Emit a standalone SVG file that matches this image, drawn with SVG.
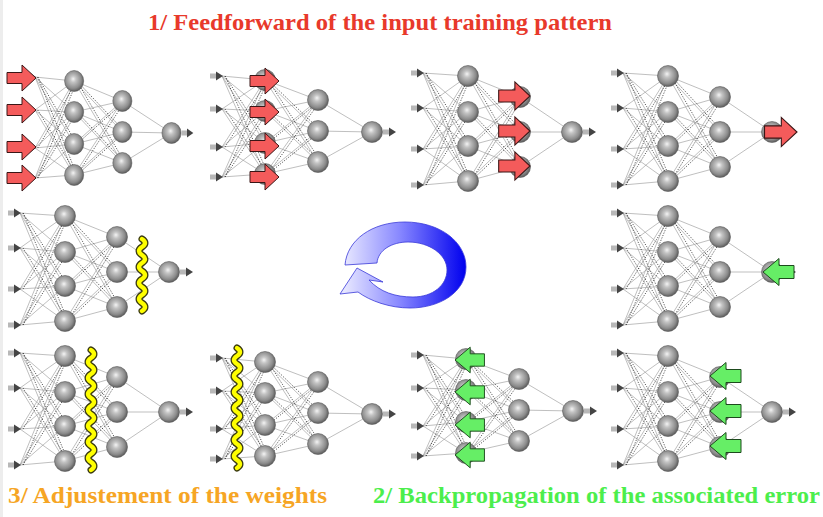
<svg xmlns="http://www.w3.org/2000/svg" xmlns:xlink="http://www.w3.org/1999/xlink" width="823" height="517" viewBox="0 0 823 517">
<style>
.ln{fill:none;stroke:#a4a4a4;stroke-width:0.7;vector-effect:non-scaling-stroke}
.dl{fill:none;stroke:#333;stroke-width:0.8;stroke-dasharray:1.2 1.4;vector-effect:non-scaling-stroke}
.nr{fill:url(#sph);stroke:#5a5a5a;stroke-width:0.6}
.red{fill:#f45b5b;stroke:#3a1616;stroke-width:1;stroke-linejoin:miter}
.grn{fill:#66ee66;stroke:#1d4a1d;stroke-width:1;stroke-linejoin:miter}
.wo{fill:none;stroke:#3a3a10;stroke-width:7;stroke-linecap:round;stroke-linejoin:round}
.wi{fill:none;stroke:#ffff00;stroke-width:4.4;stroke-linecap:round;stroke-linejoin:round}
.t{font-family:"Liberation Serif","DejaVu Serif",serif;font-weight:bold;font-size:23px}
</style>
<defs>
<radialGradient id="sph" cx="0.45" cy="0.45" r="0.6" fx="0.45" fy="0.4">
<stop offset="0" stop-color="#f4f4f4"/>
<stop offset="0.25" stop-color="#c4c4c4"/>
<stop offset="0.7" stop-color="#8c8c8c"/>
<stop offset="1" stop-color="#4e4e4e"/>
</radialGradient>
<linearGradient id="blu" x1="345" y1="0" x2="466" y2="0" gradientUnits="userSpaceOnUse">
<stop offset="0" stop-color="#e6e6ff"/>
<stop offset="0.45" stop-color="#8888ff"/>
<stop offset="1" stop-color="#0000ee"/>
</linearGradient>
<g id="sa"><rect x="-12" y="-2.5" width="7" height="5" fill="#b8b8b8"/><path d="M-6,-4.5 L1,0 L-6,4.5 Z" fill="#444"/></g>
<path id="ra" d="M-29,-5.5 H-14 V-13 L0,0 L-14,13 V5.5 H-29 Z"/>
<path id="ga" d="M0,0 L16,-13.5 V-6.5 H31 V6.5 H16 V13.5 Z"/>
<g id="linksA">
<path class="ln" d="M0,0L45,3M0,0L45,39M0,0L45,73M0,0L45,108M0,35L45,3M0,35L45,39M0,35L45,73M0,35L45,108M0,76L45,3M0,76L45,39M0,76L45,73M0,76L45,108M0,112L45,3M0,112L45,39M0,112L45,73M0,112L45,108M45,3L97,24M45,3L97,59M45,3L97,94M45,39L97,24M45,39L97,59M45,39L97,94M45,73L97,24M45,73L97,59M45,73L97,94M45,108L97,24M45,108L97,59M45,108L97,94M97,24L149,59M97,59L149,59M97,94L149,59"/>
<path class="dl" d="M3,0L48,73M3,0L48,108M3,35L48,108M3,76L48,3M3,112L48,3M3,112L48,39M48,3L100,59M48,3L100,94M48,39L100,94M48,73L100,24M48,108L100,24M48,108L100,59"/>
</g>
<g id="linksB">
<path class="ln" d="M0,0L43,4M0,0L43,35M0,0L43,67M0,0L43,98M0,33L43,4M0,33L43,35M0,33L43,67M0,33L43,98M0,71L43,4M0,71L43,35M0,71L43,67M0,71L43,98M0,101L43,4M0,101L43,35M0,101L43,67M0,101L43,98M43,4L96,24M43,4L96,55M43,4L96,86M43,35L96,24M43,35L96,55M43,35L96,86M43,67L96,24M43,67L96,55M43,67L96,86M43,98L96,24M43,98L96,55M43,98L96,86M96,24L150,56M96,55L150,56M96,86L150,56"/>
<path class="dl" d="M3,0L46,67M3,0L46,98M3,33L46,98M3,71L46,4M3,101L46,4M3,101L46,35M46,4L99,55M46,4L99,86M46,35L99,86M46,67L99,24M46,98L99,24M46,98L99,55"/>
</g>
<g id="nodesA">
<use href="#sa" x="0" y="0"/><use href="#sa" x="0" y="35"/><use href="#sa" x="0" y="76"/><use href="#sa" x="0" y="112"/>
<circle class="nr" cx="45" cy="3" r="10.5"/><circle class="nr" cx="45" cy="39" r="10.5"/><circle class="nr" cx="45" cy="73" r="10.5"/><circle class="nr" cx="45" cy="108" r="10.5"/>
<circle class="nr" cx="97" cy="24" r="10.5"/><circle class="nr" cx="97" cy="59" r="10.5"/><circle class="nr" cx="97" cy="94" r="10.5"/>
<circle class="nr" cx="149" cy="59" r="10.5"/>
<use href="#sa" x="172" y="59"/>
</g>
<g id="nodesB">
<use href="#sa" x="0" y="0"/><use href="#sa" x="0" y="33"/><use href="#sa" x="0" y="71"/><use href="#sa" x="0" y="101"/>
<circle class="nr" cx="43" cy="4" r="10.5"/><circle class="nr" cx="43" cy="35" r="10.5"/><circle class="nr" cx="43" cy="67" r="10.5"/><circle class="nr" cx="43" cy="98" r="10.5"/>
<circle class="nr" cx="96" cy="24" r="10.5"/><circle class="nr" cx="96" cy="55" r="10.5"/><circle class="nr" cx="96" cy="86" r="10.5"/>
<circle class="nr" cx="150" cy="56" r="10.5"/>
<use href="#sa" x="173" y="56"/>
</g>
</defs>
<rect x="0" y="0" width="823" height="517" fill="#ffffff"/>
<rect x="0" y="0" width="3" height="517" fill="#ededed"/>

<text class="t" x="148" y="30" fill="#e8392b" textLength="464" lengthAdjust="spacingAndGlyphs">1/ Feedforward of the input training pattern</text>

<g id="connectors">
<use href="#linksB" transform="translate(35,77) scale(0.91,1)"/>
<use href="#linksB" transform="translate(222,76)"/>
<use href="#linksA" transform="translate(423,73)"/>
<use href="#linksA" transform="translate(623,73)"/>
<use href="#linksA" transform="translate(20,213)"/>
<use href="#linksA" transform="translate(623,213)"/>
<use href="#linksA" transform="translate(20,353)"/>
<use href="#linksB" transform="translate(222,358)"/>
<use href="#linksB" transform="translate(423,355)"/>
<use href="#linksA" transform="translate(623,353)"/>
</g>

<g id="net1"><use href="#nodesB" transform="translate(35,77) scale(0.91,1)"/>
<use href="#ra" class="red" x="36" y="78"/><use href="#ra" class="red" x="36" y="110"/><use href="#ra" class="red" x="36" y="147"/><use href="#ra" class="red" x="36" y="178"/></g>
<g id="net2"><use href="#nodesB" transform="translate(222,76)"/>
<use href="#ra" class="red" x="279" y="81"/><use href="#ra" class="red" x="279" y="112"/><use href="#ra" class="red" x="279" y="146"/><use href="#ra" class="red" x="279" y="177"/></g>
<g id="net3"><use href="#nodesA" transform="translate(423,73)"/>
<use href="#ra" class="red" transform="translate(530,96) scale(1.08)"/><use href="#ra" class="red" transform="translate(530,131) scale(1.08)"/><use href="#ra" class="red" transform="translate(530,166) scale(1.08)"/></g>
<g id="net4"><use href="#nodesA" transform="translate(623,73)"/>
<use href="#ra" class="red" transform="translate(797,132) scale(1.12)"/></g>

<g id="net5"><use href="#nodesA" transform="translate(20,213)"/>
<path class="wo" d="M142,239q6,4 0,8t0,8t0,8t0,8t0,8t0,8t0,8t0,8t0,8"/>
<path class="wi" d="M142,239q6,4 0,8t0,8t0,8t0,8t0,8t0,8t0,8t0,8t0,8"/></g>
<g id="net6"><use href="#nodesA" transform="translate(623,213)"/>
<use href="#ga" class="grn" transform="translate(763,272)"/></g>

<g id="cycle"><path d="M345,265 C347,240 372,222 405,222 C440,222 466,242 466,267 C466,292 440,308 410,308 C390,308 370,301 358,292 L340,294 L357,268 L383,282 L369,280 C380,292 395,297 413,297 C433,297 447,285 447,270 C447,255 430,242 408,242 C392,242 378,250 377,263 Z" fill="url(#blu)" stroke="#3a3ad8" stroke-width="0.8"/></g>

<g id="net7"><use href="#nodesA" transform="translate(20,353)"/>
<path class="wo" d="M91,350q6,4 0,8t0,8t0,8t0,8t0,8t0,8t0,8t0,8t0,8t0,8t0,8t0,8t0,8t0,8t0,8"/>
<path class="wi" d="M91,350q6,4 0,8t0,8t0,8t0,8t0,8t0,8t0,8t0,8t0,8t0,8t0,8t0,8t0,8t0,8t0,8"/></g>
<g id="net8"><use href="#nodesB" transform="translate(222,358)"/>
<path class="wo" d="M237,348q6,4 0,8t0,8t0,8t0,8t0,8t0,8t0,8t0,8t0,8t0,8t0,8t0,8t0,8t0,8t0,8"/>
<path class="wi" d="M237,348q6,4 0,8t0,8t0,8t0,8t0,8t0,8t0,8t0,8t0,8t0,8t0,8t0,8t0,8t0,8t0,8"/></g>
<g id="net9"><use href="#nodesB" transform="translate(423,355)"/>
<use href="#ga" class="grn" transform="translate(455,360) scale(0.95)"/><use href="#ga" class="grn" transform="translate(455,392) scale(0.95)"/><use href="#ga" class="grn" transform="translate(455,425) scale(0.95)"/><use href="#ga" class="grn" transform="translate(455,455) scale(0.95)"/></g>
<g id="net10"><use href="#nodesA" transform="translate(623,353)"/>
<use href="#ga" class="grn" transform="translate(710,376)"/><use href="#ga" class="grn" transform="translate(710,411)"/><use href="#ga" class="grn" transform="translate(710,446)"/></g>

<text class="t" x="8" y="503" fill="#f6a524" textLength="319" lengthAdjust="spacingAndGlyphs">3/ Adjustement of the weights</text>
<text class="t" x="373" y="503" fill="#4cee4c" textLength="447" lengthAdjust="spacingAndGlyphs">2/ Backpropagation of the associated error</text>
</svg>
